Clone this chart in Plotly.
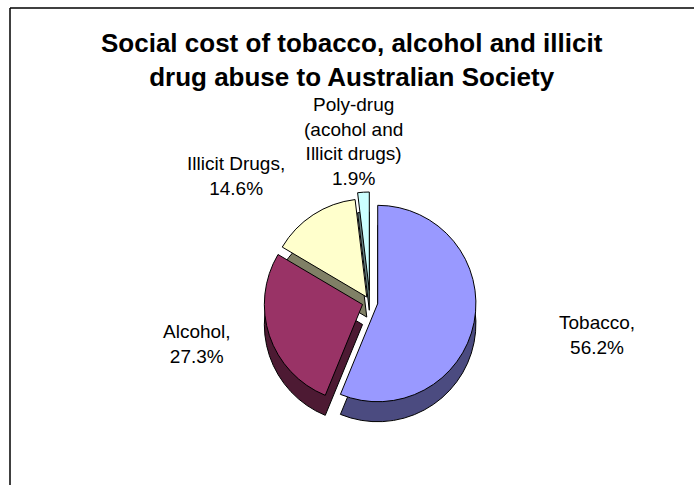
import plotly.graph_objects as go

categories = ["Tobacco", "Alcohol", "Illicit Drugs", "Poly-drug (acohol and Illicit drugs)"]
values = [56.2, 27.3, 14.6, 1.9]
top_colors = ["#9999FF", "#993366", "#FFFFCC", "#CCFFFF"]
side_colors = ["#4B4B80", "#4D1A33", "#808066", "#668080"]
pulls = [0.08, 0.08, 0.06, 0.12]
label_texts = ["Tobacco,<br>56.2%", "Alcohol,<br>27.3%", "Illicit Drugs,<br>14.6%",
               "Poly-drug<br>(acohol and<br>Illicit drugs)<br>1.9%"]

W, H = 694, 485


def px(x, y):
    return x / W, 1 - y / H


def dom(xl, xr, yt, yb):
    return dict(x=[xl / W, xr / W], y=[1 - yb / H, 1 - yt / H])


fig = go.Figure()
# depth layer (side of the 3D pie)
fig.add_trace(go.Pie(
    labels=categories, values=values, sort=False, direction="clockwise", rotation=0,
    marker=dict(colors=side_colors, line=dict(color="black", width=1)),
    pull=pulls, textinfo="none", hoverinfo="skip", showlegend=False,
    domain=dom(260, 480, 212, 432),
))
# top face
fig.add_trace(go.Pie(
    labels=categories, values=values, sort=False, direction="clockwise", rotation=0,
    marker=dict(colors=top_colors, line=dict(color="black", width=1)),
    pull=pulls, textinfo="none", hoverinfo="label+percent", showlegend=False,
    domain=dom(260, 480, 192, 412),
))

ann_pos = [(597, 335), (197, 344), (236, 176), (353, 141)]
for txt, (x, y) in zip(label_texts, ann_pos):
    ax, ay = px(x, y)
    fig.add_annotation(text=txt, x=ax, y=ay, xref="paper", yref="paper", showarrow=False,
                       xanchor="center", yanchor="middle", align="center",
                       font=dict(family="Liberation Sans, Arial", size=19, color="black"))

tx, ty = px(352, 60)
fig.add_annotation(text="<b>Social cost of tobacco, alcohol and illicit<br>drug abuse to Australian Society</b>",
                   x=tx, y=ty, xref="paper", yref="paper", showarrow=False,
                   xanchor="center", yanchor="middle", align="center",
                   font=dict(family="Liberation Sans, Arial", size=26, color="black"))

x0, y0 = px(10, 8)
fig.add_shape(type="line", xref="paper", yref="paper", x0=x0, y0=y0, x1=1, y1=y0,
              line=dict(color="black", width=1.5))
fig.add_shape(type="line", xref="paper", yref="paper", x0=x0, y0=y0, x1=x0, y1=0,
              line=dict(color="black", width=1.5))

fig.update_layout(width=W, height=H, margin=dict(l=0, r=0, t=0, b=0),
                  paper_bgcolor="white", plot_bgcolor="white")
fig.write_html("out.html", config={"displayModeBar": False},
               post_script="document.body.style.margin='0px';")
